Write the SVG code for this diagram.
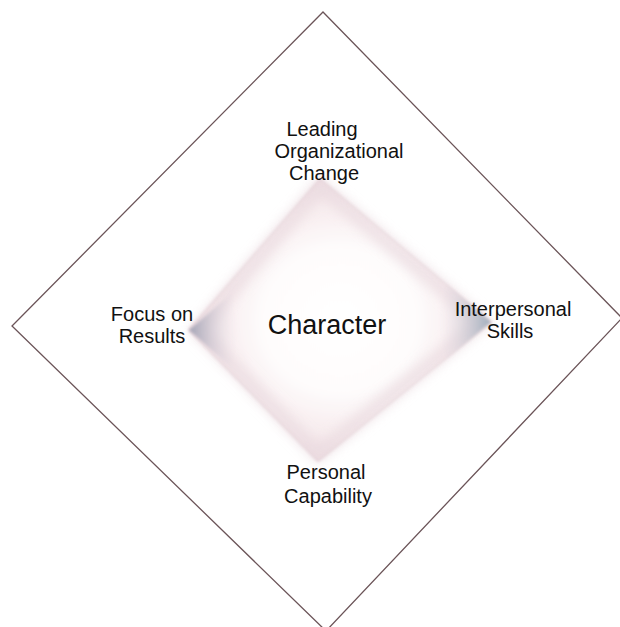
<svg xmlns="http://www.w3.org/2000/svg" width="620" height="627" viewBox="0 0 620 627">
<defs>
<style>
.lbl{font-family:"Liberation Sans",Arial,sans-serif;font-size:20px;fill:#111;text-anchor:middle}
.big{font-family:"Liberation Sans",Arial,sans-serif;font-size:27px;fill:#111;text-anchor:middle}
</style>
<radialGradient id="core" cx="0.5" cy="0.5" r="0.5">
<stop offset="0" stop-color="#ffffff"/>
<stop offset="0.5" stop-color="#fefcfc"/>
<stop offset="0.8" stop-color="#f7ecee"/>
<stop offset="1" stop-color="#eedcE1"/>
</radialGradient>
<linearGradient id="lg" x1="0" y1="0" x2="1" y2="0">
<stop offset="0" stop-color="#9a9db0" stop-opacity="0.9"/>
<stop offset="1" stop-color="#e8dde4" stop-opacity="0"/>
</linearGradient>
<linearGradient id="rg" x1="1" y1="0" x2="0" y2="0">
<stop offset="0" stop-color="#95a7b7" stop-opacity="0.9"/>
<stop offset="1" stop-color="#e8dde4" stop-opacity="0"/>
</linearGradient>
<filter id="soft" x="-10%" y="-10%" width="120%" height="120%">
<feGaussianBlur stdDeviation="1.5"/>
</filter>
<filter id="edge" x="-10%" y="-10%" width="120%" height="120%">
<feGaussianBlur stdDeviation="6"/>
</filter>
</defs>
<rect width="620" height="627" fill="#ffffff"/>
<g id="outer">
<polygon points="323,12 622,318 326,631 12,326" fill="none" stroke="#6b5458" stroke-width="1.3"/>
</g>
<g id="character">
<polygon points="320,178 492,322 318,462 188,330" fill="url(#core)" filter="url(#soft)"/>
<polygon points="320,186 482,322 318,454 198,330" fill="none" stroke="#eadbe0" stroke-width="14" opacity="0.75" filter="url(#edge)"/>
<polygon points="320,179 491,322 318,461 189,330" fill="none" stroke="#dcc6ce" stroke-width="1.5" opacity="0.5" filter="url(#soft)"/>
<polygon points="189,330 232,293 238,330 232,368" fill="url(#lg)" filter="url(#soft)"/>
<polygon points="491,322 446,284 438,322 446,359" fill="url(#rg)" filter="url(#soft)"/>
<text class="big" x="327" y="334">Character</text>
</g>
<g id="leading">
<text class="lbl" x="322" y="136">Leading</text>
<text class="lbl" x="339" y="158">Organizational</text>
<text class="lbl" x="324" y="180">Change</text>
</g>
<g id="focus">
<text class="lbl" x="152" y="321">Focus on</text>
<text class="lbl" x="152" y="343">Results</text>
</g>
<g id="interpersonal">
<text class="lbl" x="513" y="316">Interpersonal</text>
<text class="lbl" x="510" y="338">Skills</text>
</g>
<g id="personal">
<text class="lbl" x="326" y="479">Personal</text>
<text class="lbl" x="328" y="503">Capability</text>
</g>
<g id="connectors"></g>
</svg>
